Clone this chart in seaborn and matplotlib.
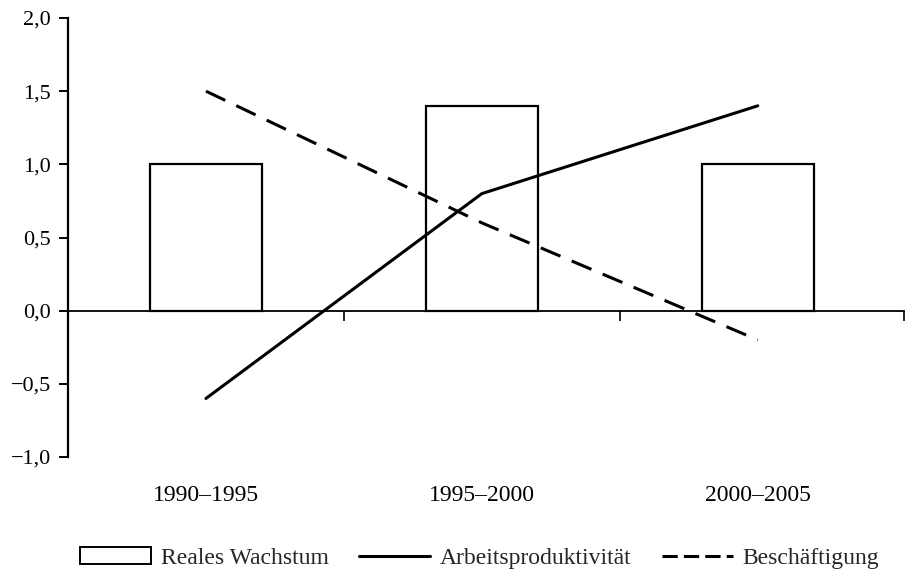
import matplotlib
matplotlib.use("Agg")
import matplotlib.pyplot as plt
import seaborn as sns
import numpy as np
import pandas as pd
from matplotlib.ticker import FuncFormatter, FixedLocator
from matplotlib.patches import Patch
from matplotlib.lines import Line2D

categories = ["1990–1995", "1995–2000", "2000–2005"]
wachstum = [1.0, 1.4, 1.0]
produktivitaet = [-0.6, 0.8, 1.4]
beschaeftigung = [1.5, 0.6, -0.2]
y_ticks = [-1.0, -0.5, 0.0, 0.5, 1.0, 1.5, 2.0]
legend_labels = ["Reales Wachstum", "Arbeitsproduktivität", "Beschäftigung"]

sns.set_theme(style="white")
plt.rcParams["font.family"] = ["Liberation Serif", "DejaVu Serif"]

df = pd.DataFrame({
    "Zeitraum": categories,
    "pos": np.arange(len(categories)),
    "Wachstum": wachstum,
    "Produktivitaet": produktivitaet,
    "Beschaeftigung": beschaeftigung,
})

fig = plt.figure(figsize=(9.1, 5.7), dpi=100)
ax = fig.add_axes([68 / 910, 1 - 457 / 570, (904 - 68) / 910, (457 - 18) / 570])

sns.barplot(data=df, x="Zeitraum", y="Wachstum", ax=ax, color="white",
            edgecolor="black", linewidth=1.6, width=0.405, saturation=1)
sns.lineplot(data=df, x="pos", y="Produktivitaet", ax=ax, color="black",
             linewidth=2.2)
sns.lineplot(data=df, x="pos", y="Beschaeftigung", ax=ax, color="black",
             linewidth=2.2, dashes=False, linestyle=(0, (7, 4)))

ax.set_xlim(-0.5, 2.53)
ax.set_ylim(-1.0, 2.0)
ax.set_xlabel("")
ax.set_ylabel("")

for s in ["top", "right"]:
    ax.spines[s].set_visible(False)
ax.spines["left"].set_color("black")
ax.spines["left"].set_linewidth(1.6)
ax.spines["bottom"].set_position(("data", 0))
ax.spines["bottom"].set_color("black")
ax.spines["bottom"].set_linewidth(1.3)

ax.yaxis.set_major_locator(FixedLocator(y_ticks))
ax.yaxis.set_major_formatter(FuncFormatter(
    lambda v, p: f"{v:.1f}".replace(".", ",").replace("-", "−")))
ax.tick_params(axis="y", direction="out", length=6.5, width=1.4, colors="black",
               labelsize=16, pad=6, left=True)

ax.xaxis.set_major_locator(FixedLocator([0.5, 1.5, 2.53]))
ax.tick_params(axis="x", direction="out", length=7, width=1.2, colors="black",
               labelbottom=False, bottom=True)

sec = ax.secondary_xaxis(0.0)
sec.set_xticks(range(len(categories)))
sec.set_xticklabels(categories)
sec.tick_params(length=0, labelsize=17, pad=20, colors="black")
sec.spines["bottom"].set_visible(False)

handles = [
    Patch(facecolor="white", edgecolor="black", linewidth=1.4),
    Line2D([], [], color="black", linewidth=2.2),
    Line2D([], [], color="black", linewidth=2.2, linestyle=(0, (5, 2))),
]
fig.legend(handles, legend_labels, loc="center left", ncol=3, frameon=False,
           fontsize=17, bbox_to_anchor=(0.07, 0.021), handlelength=3.0,
           handletextpad=0.4, columnspacing=1.3, borderpad=0.2)

fig.savefig("out.png", dpi=100, facecolor="white")
